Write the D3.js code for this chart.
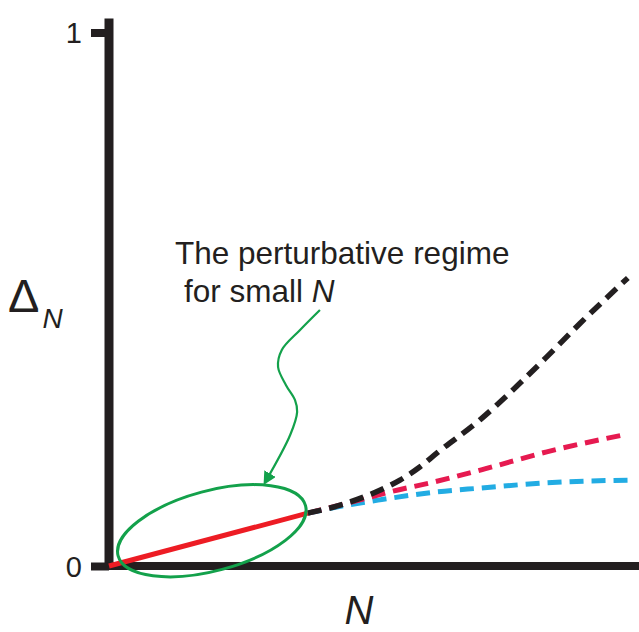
<!DOCTYPE html>
<html>
<head>
<meta charset="utf-8">
<script src="https://cdn.jsdelivr.net/npm/d3@7"></script>
<style>
  body { margin: 0; background: #fff; }
  text { font-family: "Liberation Sans", Arial, Helvetica, sans-serif; fill: #231f20; }
</style>
</head>
<body>
<div id="chart"></div>
<script>
// values (N and Delta_N in axis units, 0..1)
const yTicks = [0, 1];
const yTickLabels = ["0", "1"];

const perturbative = [[0, 0], [0.375, 0.099]];
const blackCurve = [[0.375, 0.099], [0.436, 0.114], [0.511, 0.142], [0.549, 0.161], [0.587, 0.186],
                    [0.619, 0.212], [0.700, 0.274], [0.762, 0.330], [0.826, 0.392], [0.889, 0.455], [0.979, 0.540]];
const pinkCurve = [[0.375, 0.099], [0.474, 0.124], [0.530, 0.139], [0.611, 0.157], [0.709, 0.182],
                   [0.826, 0.214], [0.977, 0.247]];
const blueCurve = [[0.375, 0.099], [0.449, 0.114], [0.511, 0.124], [0.619, 0.139], [0.700, 0.146],
                   [0.826, 0.156], [0.989, 0.161]];

// annotation: ellipse centre and the wiggly arrow path
const ellipseCentre = [0.194, 0.066];
const arrowPath = [[0.398, 0.480], [0.360, 0.442], [0.326, 0.405], [0.319, 0.373], [0.334, 0.339],
                   [0.351, 0.311], [0.355, 0.289], [0.342, 0.246], [0.294, 0.156]];

const annoLines = ["The perturbative regime", "for small "];

const width = 639, height = 632;

const x = d3.scaleLinear().domain([0, 1]).range([109, 639]);
const y = d3.scaleLinear().domain([0, 1]).range([566, 32.5]);

const svg = d3.select("#chart").append("svg")
    .attr("width", width)
    .attr("height", height);

const defs = svg.append("defs");
defs.append("marker")
    .attr("id", "arrow")
    .attr("viewBox", "0 0 10 10")
    .attr("refX", 8).attr("refY", 5)
    .attr("markerWidth", 6).attr("markerHeight", 6)
    .attr("markerUnits", "strokeWidth")
    .attr("orient", "auto")
    .append("path")
    .attr("d", "M0,0 L10,5 L0,10 z")
    .attr("fill", "#13a14b");

// Axes
svg.append("line")
    .attr("x1", x(0)).attr("x2", x(1))
    .attr("y1", y(0)).attr("y2", y(0))
    .attr("stroke", "#231f20").attr("stroke-width", 8);

svg.append("line")
    .attr("x1", x(0)).attr("x2", x(0))
    .attr("y1", y(0) + 4).attr("y2", y(1) - 14)
    .attr("stroke", "#231f20").attr("stroke-width", 9);

const yAxis = svg.append("g")
    .attr("transform", `translate(${x(0)},0)`)
    .call(d3.axisLeft(y).tickValues(yTicks).tickSize(18).tickPadding(9)
        .tickFormat((d, i) => yTickLabels[i]));
yAxis.select(".domain").remove();
yAxis.selectAll(".tick line").attr("stroke", "#231f20").attr("stroke-width", 8);
yAxis.selectAll(".tick text")
    .style("font-family", "'Liberation Sans', Arial, sans-serif")
    .style("font-size", "29px").attr("fill", "#231f20").attr("dy", "0.36em");

// Lines
const line = d3.line()
    .x(d => x(d[0]))
    .y(d => y(d[1]))
    .curve(d3.curveMonotoneX);

svg.append("path").datum(blueCurve)
    .attr("fill", "none").attr("stroke", "#22ace3").attr("stroke-width", 5)
    .attr("stroke-dasharray", "14,8").attr("d", line);

svg.append("path").datum(pinkCurve)
    .attr("fill", "none").attr("stroke", "#e61a50").attr("stroke-width", 5)
    .attr("stroke-dasharray", "14,8").attr("d", line);

svg.append("path").datum(blackCurve)
    .attr("fill", "none").attr("stroke", "#231f20").attr("stroke-width", 5.5)
    .attr("stroke-dasharray", "14,8").attr("d", line);

svg.append("path").datum(perturbative)
    .attr("fill", "none").attr("stroke", "#ed1c24").attr("stroke-width", 5)
    .attr("d", line);

// Ellipse around the small-N region
svg.append("ellipse")
    .attr("transform", `translate(${x(ellipseCentre[0])},${y(ellipseCentre[1])}) rotate(-15)`)
    .attr("rx", 97).attr("ry", 40)
    .attr("fill", "none").attr("stroke", "#13a14b").attr("stroke-width", 3);

// Arrow
svg.append("path").datum(arrowPath)
    .attr("fill", "none").attr("stroke", "#13a14b").attr("stroke-width", 2.2)
    .attr("marker-end", "url(#arrow)")
    .attr("d", d3.line().x(d => x(d[0])).y(d => y(d[1])).curve(d3.curveCatmullRom));

// Annotation text
svg.append("text")
    .attr("x", 175).attr("y", 264)
    .style("font-size", "31.5px")
    .text(annoLines[0]);

const t2 = svg.append("text")
    .attr("x", 184).attr("y", 302)
    .style("font-size", "31.5px");
t2.append("tspan").text(annoLines[1]);
t2.append("tspan").style("font-style", "italic").text("N");

// Axis labels
const yl = svg.append("text").attr("x", 8).attr("y", 312);
yl.append("tspan").style("font-size", "47px").text("Δ");
yl.append("tspan").attr("dx", 3).attr("dy", 16).style("font-size", "28px").style("font-style", "italic").text("N");

svg.append("text")
    .attr("x", 359).attr("y", 624)
    .attr("text-anchor", "middle")
    .style("font-size", "40px").style("font-style", "italic")
    .text("N");
</script>
</body>
</html>
